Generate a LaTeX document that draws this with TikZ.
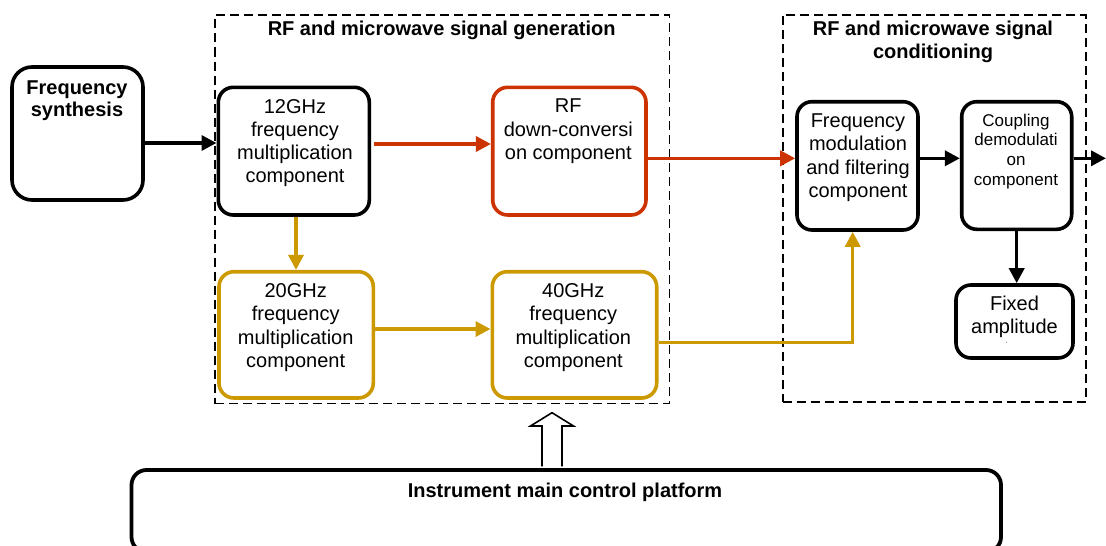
\documentclass[tikz,border=0pt]{standalone}
\usepackage{fontspec}
\setmainfont{Liberation Sans}
\usetikzlibrary{arrows.meta,calc}
\definecolor{rfred}{RGB}{204,51,0}
\definecolor{gold}{RGB}{204,153,0}
\begin{document}
\begin{tikzpicture}[x=1pt,y=-1pt,
  blk/.style={draw,line width=3.6pt,rounded corners=15pt,inner sep=0pt},
  lbl/.style={anchor=north,align=center,inner sep=0pt,font=\fontsize{20}{23.3}\selectfont},
  blbl/.style={anchor=north,align=center,inner sep=0pt,font=\fontsize{20}{23}\selectfont\bfseries},
  slbl/.style={anchor=north,align=center,inner sep=0pt,font=\fontsize{17}{19.7}\selectfont},
  grp/.style={draw,line width=1.8pt,dash pattern=on 9pt off 5pt,inner sep=0pt},
  conn/.style={line width=3.5pt,-{Triangle[length=15pt,width=15pt]}},
]
\clip (0,0) rectangle (1106,546);
\fill[white] (0,0) rectangle (1106,546);

% group frames
\node[grp,minimum width=454.5pt,minimum height=388.5pt] (gen) at (442.25,209.25) {};
\node[grp,minimum width=303pt,minimum height=386.7pt] (cond) at (934.2,208.35) {};
\node[blbl] (gent) at (441.7,20.7) {RF and microwave signal generation};
\node[blbl] (condt) at (933,20.7) {RF and microwave signal\\conditioning};

% blocks
\node[blk,rounded corners=20pt,minimum width=131pt,minimum height=133pt] (fs) at (77.5,133.5) {};
\node[blk,minimum width=151pt,minimum height=127.7pt] (g12) at (293.8,151.15) {};
\node[blk,draw=rfred,minimum width=153.3pt,minimum height=127.7pt] (rf) at (569.35,151.15) {};
\node[blk,draw=gold,minimum width=154.3pt,minimum height=126.3pt] (g20) at (296.15,334.85) {};
\node[blk,draw=gold,minimum width=164.4pt,minimum height=126.3pt] (g40) at (574.5,334.85) {};
\node[blk,minimum width=121pt,minimum height=128.3pt] (fm) at (857.5,165.85) {};
\node[blk,minimum width=110pt,minimum height=127.6pt] (cd) at (1016.7,165.5) {};
\node[blk,minimum width=117pt,minimum height=73pt] (fa) at (1014.5,321.5) {};

% block texts
\node[blbl,font=\fontsize{20}{21.5}\selectfont\bfseries] (fst) at (77,80.7) {Frequency\\synthesis};
\node[lbl] (g12t) at (295,98.9) {12GHz\\frequency\\multiplication\\component};
\node[lbl] (rft) at (568.3,99) {RF\\down-conversi\\on component};
\node[lbl] (g20t) at (295.7,283.3) {20GHz\\frequency\\multiplication\\component};
\node[lbl] (g40t) at (573.3,283.3) {40GHz\\frequency\\multiplication\\component};
\node[lbl] (fmt) at (858,113.7) {Frequency\\modulation\\and filtering\\component};
\node[slbl] (cdt) at (1016,113.6) {Coupling\\demodulati\\on\\component};
\node[lbl] (fat) at (1014.5,295.4) {Fixed\\amplitude};
\node[anchor=base,inner sep=0pt,font=\fontsize{6}{6}\selectfont] (fadot) at (1006.7,343) {.};

% connectors
\coordinate (yA) at (0,143);
\draw[conn] (fs.east |- yA) -- (g12.west |- yA);
\coordinate (yB) at (0,144);
\draw[conn,rfred,shorten <=3pt] (g12.east |- yB) -- (rf.west |- yB);
\coordinate (yC) at (0,158.3);
\draw[conn,rfred] (rf.east |- yC) -- (fm.west |- yC);
\coordinate (xD) at (296,0);
\draw[conn,gold] (g12.south -| xD) -- (g20.north -| xD);
\coordinate (yE) at (0,329);
\draw[conn,gold] (g20.east |- yE) -- (g40.west |- yE);
\coordinate (cF) at (852.7,342.7);
\draw[conn,gold] (g40.east |- cF) -- (cF) -- (fm.south -| cF);
\draw[conn] (fm.east |- yC) -- (cd.west |- yC);
\coordinate (outR) at (1106,158.3);
\draw[conn] (cd.east |- outR) -- (outR);
\draw[conn] (cd.south) -- (cd.south |- fa.north);

% control platform
\node[draw,line width=3.8pt,rounded corners=15pt,minimum width=869.5pt,minimum height=82pt,inner sep=0pt] (ctl) at (566.25,511) {};
\node[blbl] (ctlt) at (565,482.4) {Instrument main control platform};

% hollow arrow
\coordinate (hx) at (552,0);
\coordinate (hb) at (ctl.north -| hx);
\coordinate (ht) at ($(gen.south -| hx)+(0,8.3)$);
\draw[line width=1.6pt,fill=white] ($(hb)+(-10,-1.7)$) -- ($(ht)+(-10,13.3)$) -- ($(ht)+(-21.5,13.3)$) -- (ht) -- ($(ht)+(21.5,13.3)$) -- ($(ht)+(10,13.3)$) -- ($(hb)+(10,-1.7)$);
\end{tikzpicture}
\end{document}
